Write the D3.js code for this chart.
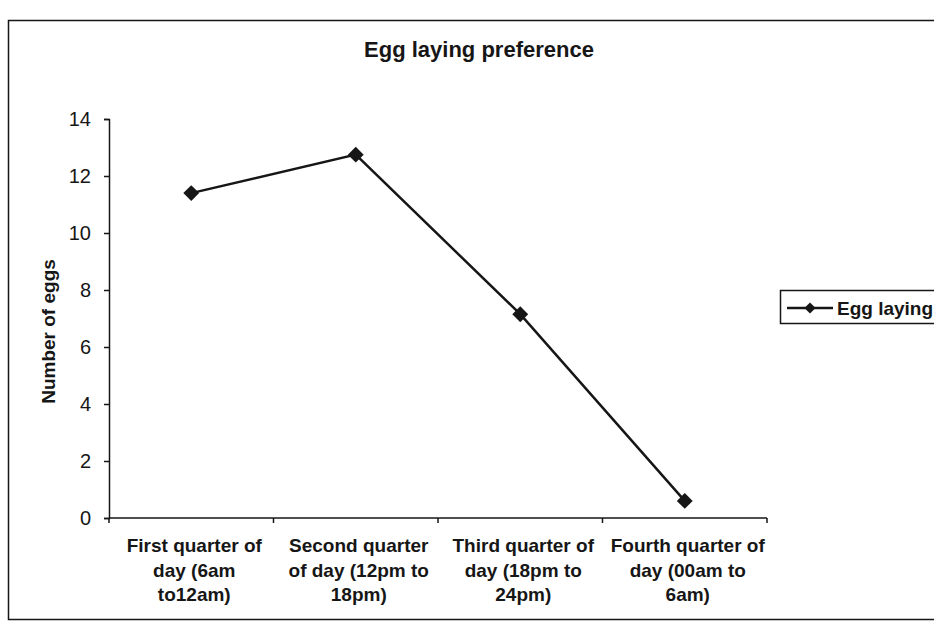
<!DOCTYPE html>
<html><head><meta charset="utf-8">
<script src="https://cdn.jsdelivr.net/npm/d3@7"></script>
<style>body{margin:0;background:#fff;}svg{display:block;}</style>
</head><body>
<script>
const categories = [
  ["First quarter of","day (6am","to12am)"],
  ["Second quarter","of day (12pm to","18pm)"],
  ["Third quarter of","day (18pm to","24pm)"],
  ["Fourth quarter of","day (00am to","6am)"]
];
const eggValues = [11.4, 12.75, 7.15, 0.6];
const yTicks = [0, 2, 4, 6, 8, 10, 12, 14];
const seriesName = "Egg laying";
const titleText = "Egg laying preference";
const yTitle = "Number of eggs";

const W = 934, H = 625;
const svg = d3.select("body").append("svg").attr("width", W).attr("height", H);
const font = "'Liberation Sans', Arial, sans-serif";
const ink = "#161616";

// outer frame
svg.append("rect").attr("x", 8.5).attr("y", 20.5).attr("width", 940).attr("height", 599)
  .attr("fill", "none").attr("stroke", ink).attr("stroke-width", 1.5);

const m = {left: 109, right: 767, top: 119, bottom: 518};
const x = d3.scaleBand().domain(d3.range(categories.length)).range([m.left, m.right]).padding(0);
const y = d3.scaleLinear().domain([0, 14]).range([m.bottom, m.top]);

// title
svg.append("text").attr("x", 479).attr("y", 57).attr("text-anchor", "middle")
  .attr("font-family", font).attr("font-weight", "bold").attr("font-size", 22).attr("fill", ink)
  .text(titleText);

// y axis
const yAxis = svg.append("g").attr("transform", `translate(${m.left},0)`)
  .call(d3.axisLeft(y).tickValues(yTicks).tickSize(5).tickPadding(13).tickFormat(d3.format("d")));
yAxis.selectAll("path, line").attr("stroke", ink).attr("stroke-width", 1.5);
yAxis.selectAll("text").attr("font-family", font).attr("font-size", 20).attr("fill", ink);

// x axis
const xAxis = svg.append("g").attr("transform", `translate(0,${m.bottom})`);
xAxis.append("line").attr("x1", m.left).attr("x2", m.right).attr("stroke", ink).attr("stroke-width", 1.5);
const bounds = d3.range(categories.length + 1).map(i => i < categories.length ? x(i) : x(i - 1) + x.bandwidth());
xAxis.selectAll("line.tk").data(bounds).join("line").attr("class", "tk")
  .attr("x1", d => d).attr("x2", d => d).attr("y1", 0).attr("y2", 5)
  .attr("stroke", ink).attr("stroke-width", 1.5);
xAxis.selectAll("text.cat").data(categories).join("text").attr("class", "cat")
  .attr("text-anchor", "middle").attr("font-family", font).attr("font-size", 19).attr("fill", ink)
  .attr("font-weight", "bold")
  .each(function(lines, i) {
    const t = d3.select(this);
    lines.forEach((ln, j) => {
      t.append("tspan").attr("x", x(i) + x.bandwidth() / 2 + 3).attr("y", 34 + j * 24.5).text(ln);
    });
  });

// y title
svg.append("text").attr("transform", `translate(55,${(m.top + m.bottom) / 2 + 13}) rotate(-90)`)
  .attr("text-anchor", "middle").attr("font-family", font).attr("font-weight", "bold")
  .attr("font-size", 19).attr("fill", ink).text(yTitle);

// line
const line = d3.line().x((d, i) => x(i) + x.bandwidth() / 2).y(d => y(d));
svg.append("path").datum(eggValues).attr("d", line).attr("fill", "none")
  .attr("stroke", ink).attr("stroke-width", 2.5);
const diamond = d3.symbol().type(d3.symbolDiamond2).size(160);
svg.selectAll("path.pt").data(eggValues).join("path").attr("class", "pt")
  .attr("d", diamond)
  .attr("transform", (d, i) => `translate(${x(i) + x.bandwidth() / 2},${y(d)})`)
  .attr("fill", ink);

// legend
const lg = svg.append("g");
lg.append("rect").attr("x", 780.5).attr("y", 290.5).attr("width", 170).attr("height", 33)
  .attr("fill", "#fff").attr("stroke", ink).attr("stroke-width", 1.5);
lg.append("line").attr("x1", 787).attr("x2", 833).attr("y1", 308).attr("y2", 308)
  .attr("stroke", ink).attr("stroke-width", 2.5);
lg.append("path").attr("d", d3.symbol().type(d3.symbolDiamond2).size(80))
  .attr("transform", "translate(810,308)").attr("fill", ink);
lg.append("text").attr("x", 837).attr("y", 315).attr("font-family", font).attr("font-weight", "bold")
  .attr("font-size", 19).attr("fill", ink).text(seriesName);
</script>
</body></html>
